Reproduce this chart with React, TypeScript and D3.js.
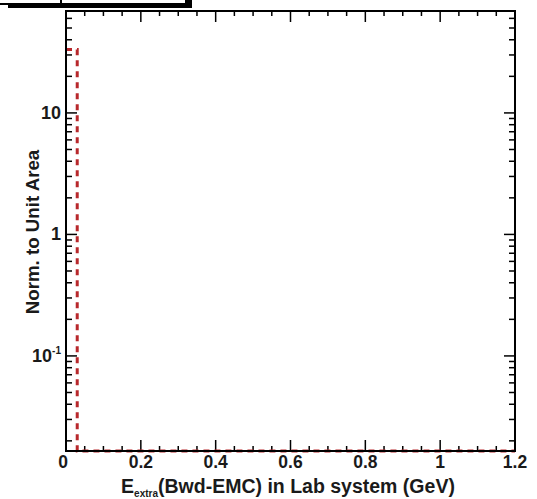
import React, { useEffect, useRef } from "react";
import * as d3 from "d3";

// histogram bins (GeV), 0.03 wide
const binEdges = [
  0, 0.03, 0.06, 0.09, 0.12, 0.15, 0.18, 0.21, 0.24, 0.27, 0.3, 0.33, 0.36, 0.39,
  0.42, 0.45, 0.48, 0.51, 0.54, 0.57, 0.6, 0.63, 0.66, 0.69, 0.72, 0.75, 0.78,
  0.81, 0.84, 0.87, 0.9, 0.93, 0.96, 0.99, 1.02, 1.05, 1.08, 1.11, 1.14, 1.17, 1.2,
];
const binValues = [
  33.3, 0, 0, 0, 0, 0, 0, 0, 0, 0, 0, 0, 0, 0, 0, 0, 0, 0, 0, 0,
  0, 0, 0, 0, 0, 0, 0, 0, 0, 0, 0, 0, 0, 0, 0, 0, 0, 0, 0, 0,
];
const xTicks = [0, 0.2, 0.4, 0.6, 0.8, 1, 1.2];
const xTickLabels = ["0", "0.2", "0.4", "0.6", "0.8", "1", "1.2"];
const yTicks = [10, 1, 0.1];

const App = () => {
  const svgRef = useRef<SVGSVGElement | null>(null);

  useEffect(() => {
    const svg = d3.select(svgRef.current);
    svg.selectAll("*").remove();

    const left = 66, right = 515, top = 11, bottom = 451;
    const x = d3.scaleLinear().domain([0, 1.2]).range([left, right]);
    const y = d3.scaleLog().domain([0.0165, 69]).range([bottom, top]);
    const font = "'Liberation Sans', Arial, sans-serif";
    const ink = "#1a1a1a";

    // legend box fragment at the top
    svg.append("rect").attr("x", 8).attr("y", -10).attr("width", 184).attr("height", 18).attr("fill", "#000");
    svg.append("rect").attr("x", -2).attr("y", -10).attr("width", 188).attr("height", 14)
      .attr("fill", "#fff").attr("stroke", "#000").attr("stroke-width", 2);
    svg.append("line").attr("x1", 61).attr("x2", 61).attr("y1", -10).attr("y2", 4)
      .attr("stroke", "#000").attr("stroke-width", 2);

    const g = svg.append("g");

    // x ticks, bottom and top
    const xMinor = d3.range(0, 1.2001, 0.05);
    xMinor.forEach((v) => {
      const major = xTicks.some((t) => Math.abs(t - v) < 1e-6);
      const len = major ? 11 : 5;
      g.append("line").attr("x1", x(v)).attr("x2", x(v)).attr("y1", bottom).attr("y2", bottom - len)
        .attr("stroke", "#000").attr("stroke-width", 1.5);
      g.append("line").attr("x1", x(v)).attr("x2", x(v)).attr("y1", top).attr("y2", top + len)
        .attr("stroke", "#000").attr("stroke-width", 1.5);
    });

    // y ticks, left and right
    const yMinor: number[] = [];
    [0.01, 0.1, 1, 10].forEach((d) => {
      for (let k = 1; k <= 9; k++) {
        const v = d * k;
        if (v >= 0.0165 && v <= 69) yMinor.push(v);
      }
    });
    yMinor.forEach((v) => {
      const major = yTicks.some((t) => Math.abs(t - v) / t < 1e-6);
      const len = major ? 11 : 6;
      g.append("line").attr("x1", left).attr("x2", left + len).attr("y1", y(v)).attr("y2", y(v))
        .attr("stroke", "#000").attr("stroke-width", 1.5);
      g.append("line").attr("x1", right).attr("x2", right - len).attr("y1", y(v)).attr("y2", y(v))
        .attr("stroke", "#000").attr("stroke-width", 1.5);
    });

    // histogram step line
    const pts: [number, number][] = [];
    const yv = (v: number) => y(Math.max(v, 0.0165));
    binValues.forEach((v, i) => {
      pts.push([x(binEdges[i]), yv(v)]);
      pts.push([x(binEdges[i + 1]), yv(v)]);
    });
    g.append("path")
      .attr("d", d3.line()(pts))
      .attr("fill", "none")
      .attr("stroke", "#b8282c")
      .attr("stroke-width", 3)
      .attr("stroke-dasharray", "6,5");

    // frame
    g.append("rect").attr("x", left).attr("y", top).attr("width", right - left).attr("height", bottom - top)
      .attr("fill", "none").attr("stroke", "#000").attr("stroke-width", 2);

    // x tick labels
    xTicks.forEach((t, i) => {
      g.append("text").attr("x", x(t) + (i === 0 ? -3 : 0)).attr("y", 468)
        .attr("text-anchor", "middle").attr("font-family", font).attr("font-weight", "bold")
        .attr("font-size", 17.5).attr("fill", ink).text(xTickLabels[i]);
    });

    // y tick labels
    const yl = (v: number) => y(v) + 6;
    g.append("text").attr("x", 61).attr("y", yl(10)).attr("text-anchor", "end")
      .attr("font-family", font).attr("font-weight", "bold").attr("font-size", 18).attr("fill", ink).text("10");
    g.append("text").attr("x", 61).attr("y", yl(1)).attr("text-anchor", "end")
      .attr("font-family", font).attr("font-weight", "bold").attr("font-size", 18).attr("fill", ink).text("1");
    const t01 = g.append("text").attr("x", 61).attr("y", yl(0.1)).attr("text-anchor", "end")
      .attr("font-family", font).attr("font-weight", "bold").attr("font-size", 18).attr("fill", ink);
    t01.append("tspan").text("10");
    t01.append("tspan").attr("dy", -8).attr("font-size", 10).text("-1");

    // axis titles
    const xt = g.append("text").attr("x", 288).attr("y", 493).attr("text-anchor", "middle")
      .attr("font-family", font).attr("font-weight", "bold").attr("font-size", 19.5).attr("fill", ink);
    xt.append("tspan").text("E");
    xt.append("tspan").attr("dy", 4).attr("font-size", 10).text("extra");
    xt.append("tspan").attr("dy", -4).text("(Bwd-EMC) in Lab system (GeV)");

    g.append("text").attr("transform", `translate(39,232) rotate(-90)`)
      .attr("text-anchor", "middle").attr("font-family", font).attr("font-weight", "bold")
      .attr("font-size", 18.7).attr("fill", ink)
      .text("Norm. to Unit Area");
  }, []);

  return (
    <svg
      ref={svgRef}
      width={537}
      height={499}
      style={{ position: "absolute", left: 0, top: 0, background: "#fff" }}
    ></svg>
  );
};

export default App;
